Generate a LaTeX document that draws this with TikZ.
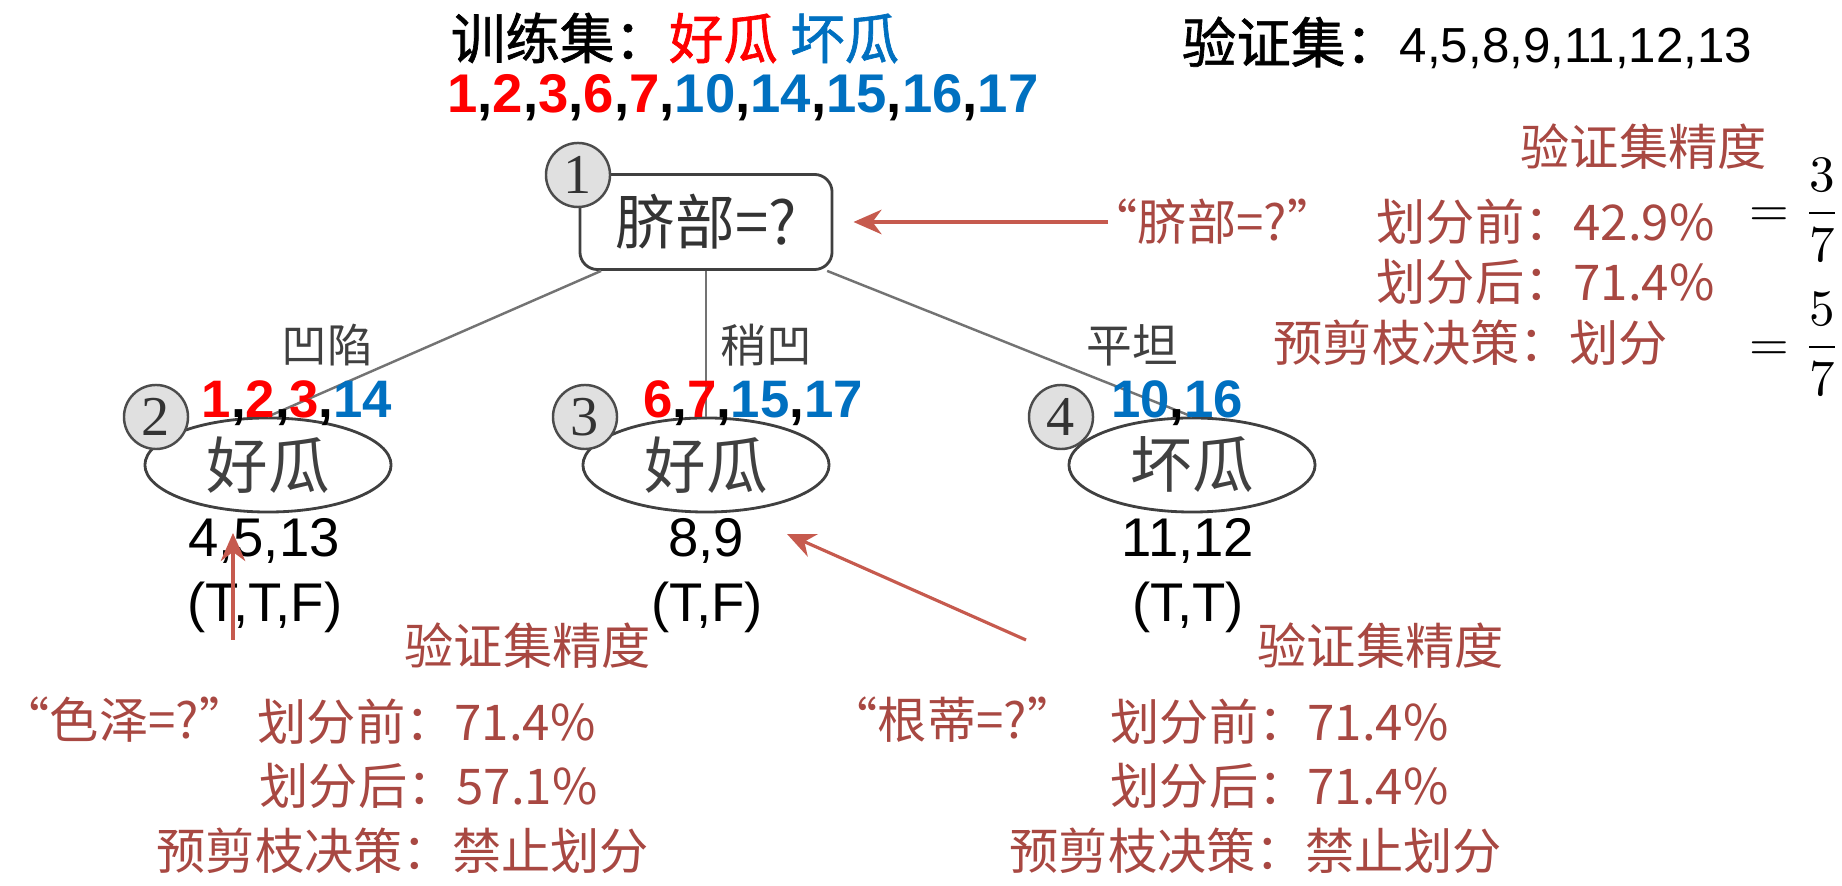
\documentclass[tikz,border=0pt]{standalone}
\usepackage{fontspec}
\setmainfont{Liberation Sans}
\newfontfamily\cjk{Noto Sans CJK SC}
\newfontfamily\cjkhei[FakeBold=1.2]{Noto Sans CJK SC}
\newfontfamily\badgefont{Liberation Serif}
\usetikzlibrary{shapes.geometric,arrows.meta}
\definecolor{goodred}{RGB}{255,0,0}
\definecolor{badblue}{RGB}{0,112,192}
\definecolor{annored}{RGB}{168,72,66}
\definecolor{pointred}{RGB}{198,90,78}
\newcommand{\gd}[1]{{\color{goodred}#1}}
\newcommand{\bd}[1]{{\color{badblue}#1}}
\tikzset{
  decision/.style={rectangle, rounded corners=5pt, draw=black!75, line width=0.8pt, minimum width=2.52cm, minimum height=0.95cm, inner sep=0pt, text=black!80, font=\cjk\fontsize{17}{17}\selectfont},
  leaf/.style={ellipse, draw=black!75, line width=0.8pt, minimum width=2.46cm, minimum height=0.94cm, inner sep=0pt, text=black!75, font=\cjk\fontsize{17.5}{17.5}\selectfont},
  badge/.style={circle, draw=black!70, fill=black!12, line width=0.7pt, minimum size=0.64cm, inner sep=0pt, text=black!80, font=\badgefont\fontsize{16}{16}\selectfont},
  branch/.style={draw=black!55, line width=0.7pt},
  branchlabel/.style={text=black!75, font=\cjk\fontsize{13}{13}\selectfont},
  heading/.style={font=\cjkhei\fontsize{15.5}{15.5}\selectfont},
  trainids/.style={font=\bfseries\fontsize{15.5}{15.5}\selectfont},
  leafids/.style={font=\bfseries\fontsize{15}{15}\selectfont},
  checkids/.style={font=\fontsize{15.5}{15.5}\selectfont},
  note/.style={anchor=west, inner sep=0pt, text=annored, font=\cjk\fontsize{14}{14}\selectfont},
  ratio/.style={inner sep=0pt},
  pointer/.style={draw=pointred, line width=0.9pt, -{Stealth[length=8pt,width=7pt]}}
}
\begin{document}
\begin{tikzpicture}[x=0.01cm, y=-0.01cm]
  \useasboundingbox (0,0) rectangle (1842,886);

  % data sets
  \node[heading] (train) at (675,38) {训练集：\gd{好瓜} \bd{坏瓜}};
  \node[trainids] (trainlist) at (743,98) {\gd{1},\gd{2},\gd{3},\gd{6},\gd{7},\bd{10},\bd{14},\bd{15},\bd{16},\bd{17}};
  \node[heading] (valid) at (1467,43) {验证集：{\fontspec{Liberation Sans}\fontsize{14}{14}\selectfont 4,5,8,9,11,12,13}};

  % tree
  \node[decision] (root) at (706,222) {脐部=?};
  \node[leaf] (t2) at (268,465) {好瓜};
  \node[leaf] (t3) at (706,465) {好瓜};
  \node[leaf] (t4) at (1192,465) {坏瓜};

  \draw[branch] (root.205) -- (t2.north);
  \draw[branch] (root.south) -- (t3.north);
  \draw[branch] (root.338) -- (t4.north);

  \node[branchlabel] (l2) at (327,345) {凹陷};
  \node[branchlabel] (l3) at (766,345) {稍凹};
  \node[branchlabel] (l4) at (1132,345) {平坦};

  \node[badge] (c1) at (578,175) {1};
  \node[badge] (c2) at (156,417) {2};
  \node[badge] (c3) at (585,417) {3};
  \node[badge] (c4) at (1061,417) {4};

  \node[leafids] (s2) at (297,403) {\gd{1},\gd{2},\gd{3},\bd{14}};
  \node[leafids] (s3) at (753,403) {\gd{6},\gd{7},\bd{15},\bd{17}};
  \node[leafids] (s4) at (1177,403) {\bd{10},\bd{16}};

  \node[checkids] (v2) at (264,541) {4,5,13};
  \node[checkids] (r2) at (265,607) {(T,T,F)};
  \node[checkids] (v3) at (706,541) {8,9};
  \node[checkids] (r3) at (707,607) {(T,F)};
  \node[checkids] (v4) at (1188,541) {11,12};
  \node[checkids] (r4) at (1188,607) {(T,T)};

  % accuracy notes, root
  \node[note] (h1) at (1520,147) {验证集精度};
  \node[note] (q1) at (1088,222) {“脐部=?”};
  \node[note] (b1) at (1376,222) {划分前：42.9\%};
  \node[note] (a1) at (1376,282) {划分后：71.4\%};
  \node[note] (d1) at (1273,343) {预剪枝决策：划分};
  \node[ratio] (f1) at (1795,210) {\scalebox{1.45}{$\displaystyle=\frac{3}{7}$}};
  \node[ratio] (f2) at (1795,344) {\scalebox{1.45}{$\displaystyle=\frac{5}{7}$}};
  \draw[pointer] ([xshift=0.2cm]q1.west) -- ([xshift=0.2cm]root.east);

  % accuracy notes, node 2
  \node[note] (h2) at (404,646) {验证集精度};
  \node[note] (q2) at (0,720) {“色泽=?”};
  \node[note] (b2) at (257,722) {划分前：71.4\%};
  \node[note] (a2) at (259,786) {划分后：57.1\%};
  \node[note] (d2) at (156,851) {预剪枝决策：禁止划分};
  \coordinate (p2) at (233,640);
  \coordinate (p2tip) at (233,533);
  \draw[pointer] (p2) -- (p2tip);

  % accuracy notes, node 3
  \node[note] (h3) at (1257,646) {验证集精度};
  \node[note] (q3) at (828,720) {“根蒂=?”};
  \node[note] (b3) at (1110,722) {划分前：71.4\%};
  \node[note] (a3) at (1110,786) {划分后：71.4\%};
  \node[note] (d3) at (1009,851) {预剪枝决策：禁止划分};
  \coordinate (p3) at (1026,640);
  \coordinate (p3tip) at (787,534);
  \draw[pointer] (p3) -- (p3tip);
\end{tikzpicture}
\end{document}
